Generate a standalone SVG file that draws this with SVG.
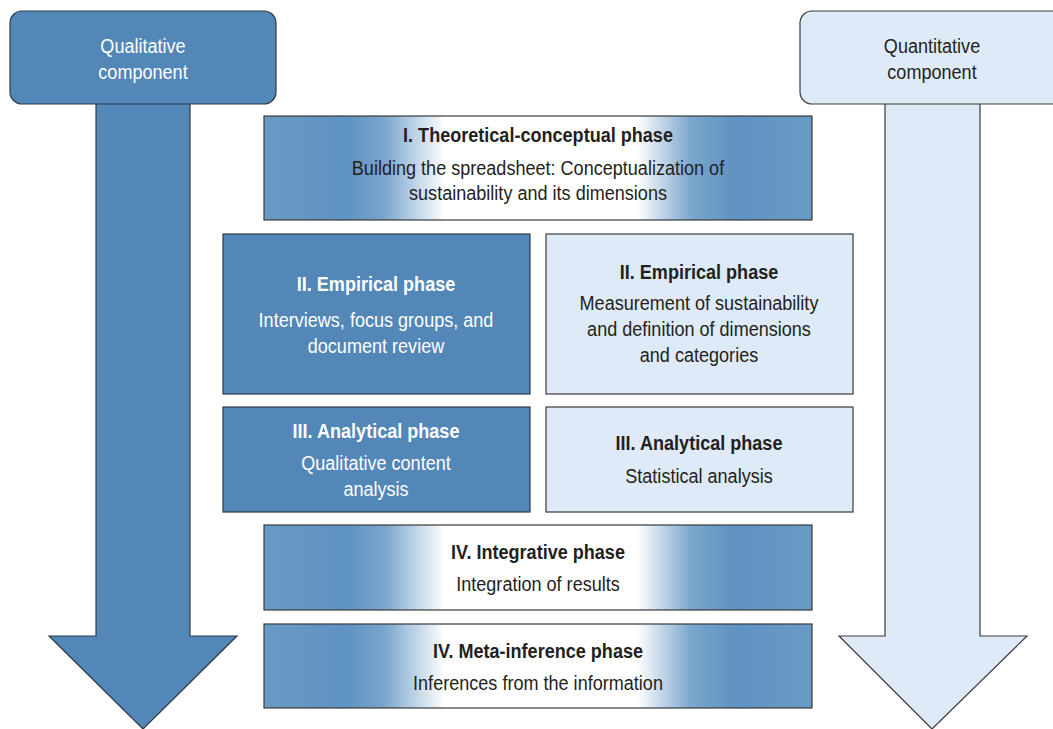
<svg xmlns="http://www.w3.org/2000/svg" width="1053" height="729" viewBox="0 0 1053 729">
<defs>
<linearGradient id="grad" x1="0" y1="0" x2="1" y2="0">
<stop offset="0" stop-color="#6a9ac6"/>
<stop offset="0.15" stop-color="#5f93c3"/>
<stop offset="0.22" stop-color="#7aa5cd"/>
<stop offset="0.33" stop-color="#ffffff"/>
<stop offset="0.68" stop-color="#ffffff"/>
<stop offset="0.78" stop-color="#7aa5cd"/>
<stop offset="0.86" stop-color="#5f93c3"/>
<stop offset="1" stop-color="#6a9ac6"/>
</linearGradient>
<style>
.dark{fill:#5287b8;stroke:#2e3a46;stroke-width:1.2}
.light{fill:#deeaf7;stroke:#3a3a3a;stroke-width:1.2}
.grad{fill:url(#grad);stroke:#3a3a3a;stroke-width:1.2}
text{font-family:"Liberation Sans Narrow","Arial Narrow","Liberation Sans",sans-serif;font-size:21px;text-anchor:middle}
.t{font-weight:bold}
.w{fill:#ffffff}
.k{fill:#231f20}
</style>
</defs>
<g id="qualitative">
<polygon class="dark" points="96,100 190,100 190,636 237,636 143,729 49,636 96,636"/>
<rect class="dark" x="10" y="11" width="266" height="93" rx="12"/>
<text class="w" x="0" y="53" transform="translate(143 0) scale(0.86 1)">Qualitative</text>
<text class="w" x="0" y="79" transform="translate(143 0) scale(0.86 1)">component</text>
</g>
<g id="quantitative">
<polygon class="light" points="885,100 980,100 980,636 1027,636 932,729 839,636 885,636"/>
<rect class="light" x="800" y="11" width="270" height="93" rx="12"/>
<text class="k" x="0" y="53" transform="translate(932 0) scale(0.86 1)">Quantitative</text>
<text class="k" x="0" y="79" transform="translate(932 0) scale(0.86 1)">component</text>
</g>
<g id="phase1">
<rect class="grad" x="264" y="116" width="548" height="104"/>
<text class="k t" x="0" y="142" transform="translate(538 0) scale(0.86 1)">I. Theoretical-conceptual phase</text>
<text class="k" x="0" y="175" transform="translate(538 0) scale(0.86 1)">Building the spreadsheet: Conceptualization of</text>
<text class="k" x="0" y="200" transform="translate(538 0) scale(0.86 1)">sustainability and its dimensions</text>
</g>
<g id="phase2-qual">
<rect class="dark" x="223" y="234" width="307" height="160"/>
<text class="w t" x="0" y="291" transform="translate(376 0) scale(0.86 1)">II. Empirical phase</text>
<text class="w" x="0" y="327" transform="translate(376 0) scale(0.86 1)">Interviews, focus groups, and</text>
<text class="w" x="0" y="353" transform="translate(376 0) scale(0.86 1)">document review</text>
</g>
<g id="phase2-quan">
<rect class="light" x="546" y="234" width="307" height="160"/>
<text class="k t" x="0" y="279" transform="translate(699 0) scale(0.86 1)">II. Empirical phase</text>
<text class="k" x="0" y="310" transform="translate(699 0) scale(0.86 1)">Measurement of sustainability</text>
<text class="k" x="0" y="336" transform="translate(699 0) scale(0.86 1)">and definition of dimensions</text>
<text class="k" x="0" y="362" transform="translate(699 0) scale(0.86 1)">and categories</text>
</g>
<g id="phase3-qual">
<rect class="dark" x="223" y="407" width="307" height="105"/>
<text class="w t" x="0" y="438" transform="translate(376 0) scale(0.86 1)">III. Analytical phase</text>
<text class="w" x="0" y="470" transform="translate(376 0) scale(0.86 1)">Qualitative content</text>
<text class="w" x="0" y="496" transform="translate(376 0) scale(0.86 1)">analysis</text>
</g>
<g id="phase3-quan">
<rect class="light" x="546" y="407" width="307" height="105"/>
<text class="k t" x="0" y="450" transform="translate(699 0) scale(0.86 1)">III. Analytical phase</text>
<text class="k" x="0" y="483" transform="translate(699 0) scale(0.86 1)">Statistical analysis</text>
</g>
<g id="phase4-integrative">
<rect class="grad" x="264" y="525" width="548" height="85"/>
<text class="k t" x="0" y="559" transform="translate(538 0) scale(0.86 1)">IV. Integrative phase</text>
<text class="k" x="0" y="591" transform="translate(538 0) scale(0.86 1)">Integration of results</text>
</g>
<g id="phase4-meta">
<rect class="grad" x="264" y="624" width="548" height="84"/>
<text class="k t" x="0" y="658" transform="translate(538 0) scale(0.86 1)">IV. Meta-inference phase</text>
<text class="k" x="0" y="690" transform="translate(538 0) scale(0.86 1)">Inferences from the information</text>
</g>
<g id="connectors"></g>
</svg>
